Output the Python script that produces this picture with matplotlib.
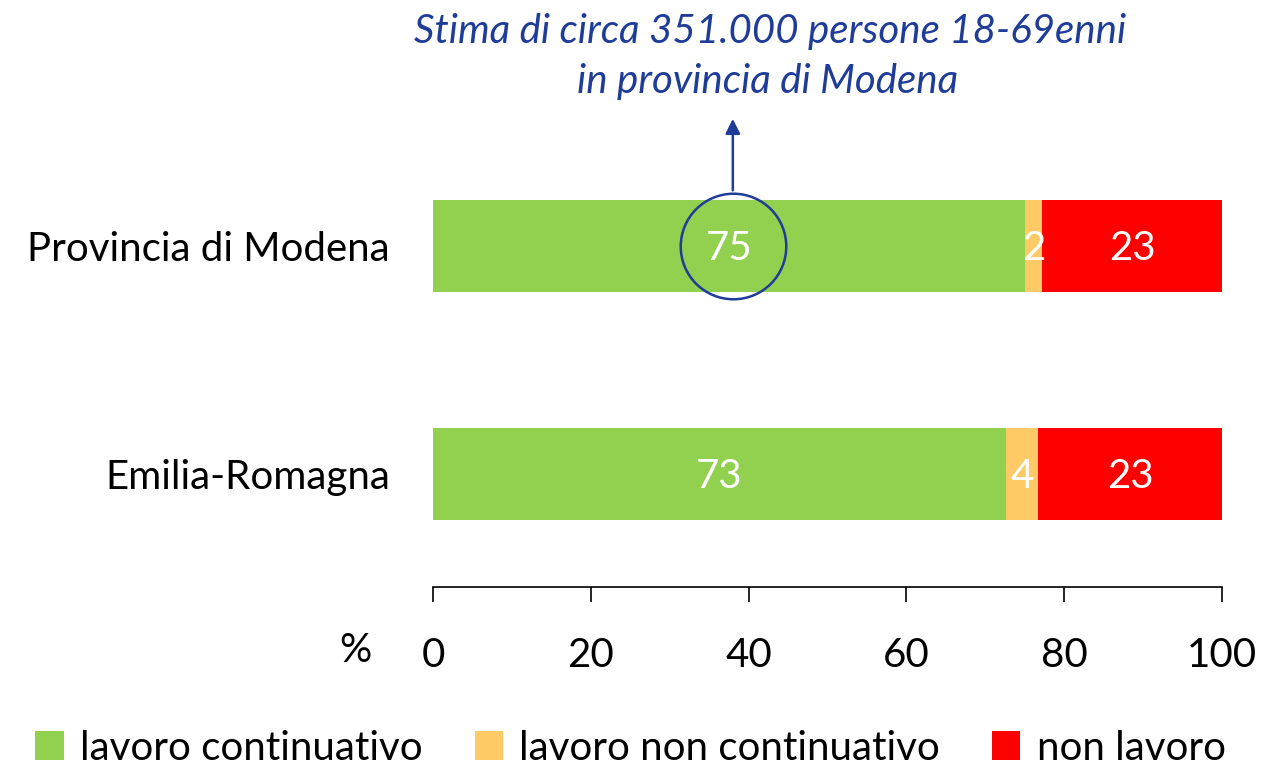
import matplotlib
matplotlib.use("Agg")
import matplotlib.pyplot as plt
from matplotlib.patches import Patch

plt.rcParams['font.family'] = ['Lato', 'DejaVu Sans']

regions = ["Emilia-Romagna", "Provincia di Modena"]
continuativo = [72.6, 75.0]
non_continuativo = [4.1, 2.2]
non_lavoro = [23.3, 22.8]
series_names = ["lavoro continuativo", "lavoro non continuativo", "non lavoro"]
colors = ["#92D050", "#FFCA66", "#FF0000"]
ticks = [0, 20, 40, 60, 80, 100]

blue = "#1F3C99"
fs = 29

fig = plt.figure(figsize=(12.61, 7.67), dpi=100)
ax = fig.add_axes([433 / 1261, 1 - 587 / 767, (1222 - 433) / 1261, (587 - 150) / 767])

ypos = [0, 1]
left = [0, 0]
for vals, col in zip([continuativo, non_continuativo, non_lavoro], colors):
    ax.barh(ypos, vals, left=left, height=0.40, color=col)
    for y, v, l in zip(ypos, vals, left):
        ax.text(l + v / 2, y - 0.012, f"{v:.0f}", ha="center", va="center",
                color="white", fontsize=fs)
    left = [a + b for a, b in zip(left, vals)]

ax.set_xlim(0, 100)
ax.set_ylim(-0.496, 1.421)
ax.set_xticks(ticks)
ax.set_xticklabels([str(t) for t in ticks], fontsize=fs)
ax.tick_params(axis="x", direction="out", length=11, width=1.2, pad=25)
ax.set_yticks(ypos)
ax.set_yticklabels(regions, fontsize=fs)
ax.tick_params(axis="y", length=0, pad=31)
for s in ["top", "right", "left"]:
    ax.spines[s].set_visible(False)
ax.spines["bottom"].set_linewidth(1.2)

fig.text(355 / 1261, 1 - 650 / 767, "%", ha="center", va="center", fontsize=fs)

# highlight circle + arrow
ax.plot([38.0], [1], marker="o", markersize=76, markerfacecolor="none",
        markeredgecolor=blue, markeredgewidth=1.8, clip_on=False)
ax.annotate("", xy=(38.0, 1.57), xytext=(38.0, 1.232),
            arrowprops=dict(arrowstyle="-|>", color=blue, lw=1.8,
                            mutation_scale=22),
            annotation_clip=False)
fig.text(770 / 1261, 1 - 32 / 767, "Stima di circa 351.000 persone 18-69enni",
         ha="center", va="center", fontsize=fs, style="italic", color=blue)
fig.text(768 / 1261, 1 - 82 / 767, "in provincia di Modena",
         ha="center", va="center", fontsize=fs, style="italic", color=blue)

handles = [Patch(facecolor=c, edgecolor="none") for c in colors]
fig.legend(handles, series_names, loc="center", bbox_to_anchor=(0.5, 1 - 748 / 767),
           ncol=3, frameon=False, fontsize=fs, handlelength=0.7, handleheight=0.7,
           handletextpad=0.4, columnspacing=1.3)

fig.savefig("out.png", dpi=100)
